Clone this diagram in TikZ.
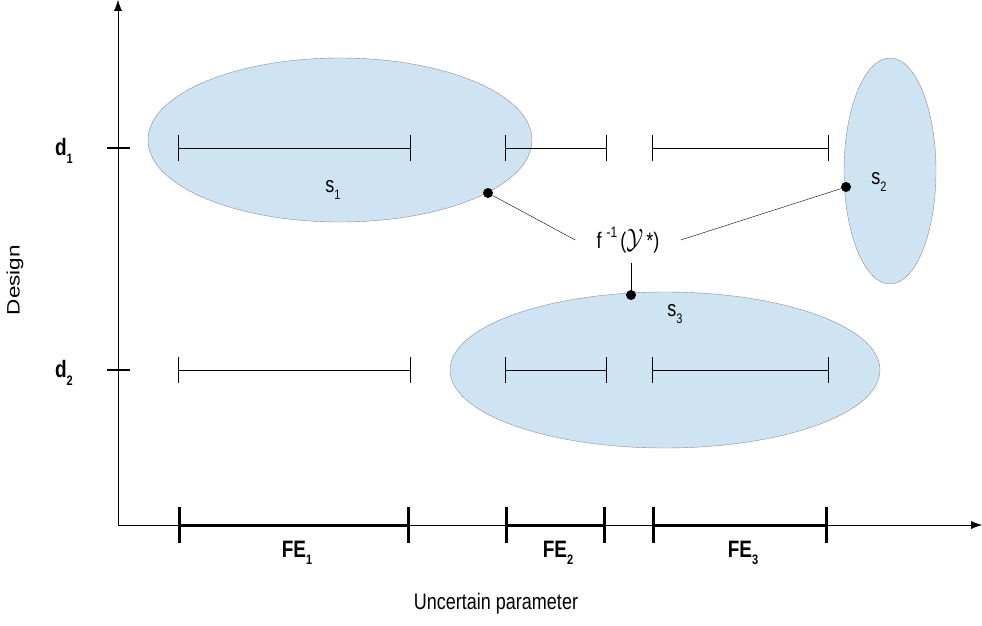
\documentclass[tikz,border=0pt]{standalone}
\usepackage{graphicx}
\usepackage{fontspec}
\setmainfont{Liberation Sans}
\usetikzlibrary{arrows.meta,shapes.geometric}
\definecolor{regionblue}{RGB}{207,228,243}
\newcommand{\lowsub}[1]{\raisebox{-0.6ex}{\fontsize{11}{11}\selectfont #1}}
\newcommand{\tall}[1]{\scalebox{1}[1.25]{#1}}

\begin{document}
\begin{tikzpicture}[x=1pt,y=-1pt,>=Latex,
  lbl/.style={font=\fontsize{18}{20}\selectfont},
  blbl/.style={font=\fontsize{19}{21}\selectfont\bfseries},
  region/.style={ellipse,draw=gray!90,fill=regionblue,inner sep=0pt},
  dot/.style={circle,fill=black,inner sep=0pt,minimum size=10pt},
  axis/.style={thin,-{Latex[length=11pt,width=8pt]}},
  fe/.style={line width=3pt,{Bar[width=36pt,line width=2.6pt]}-{Bar[width=36pt,line width=2.6pt]}},
  span/.style={thin,{Bar[width=26pt]}-{Bar[width=26pt]}}]
\useasboundingbox (0,0) rectangle (982,626);
% feasible regions
\node[region,minimum width=384pt,minimum height=164pt] (s1) at (340,140) {};
\node[region,minimum width=92pt,minimum height=226pt] (s2) at (890,171) {};
\node[region,minimum width=430pt,minimum height=156pt] (s3) at (665,370) {};
\node[lbl] at (333,190) {\tall{s\lowsub{1}}};
\node[lbl] at (879,182) {\tall{s\lowsub{2}}};
\node[lbl] at (675,314) {\tall{s\lowsub{3}}};
% axes
\coordinate (o) at (118,525);
\coordinate (ytop) at (118,0);
\coordinate (xend) at (982,525);
\draw[axis] (o) -- (ytop);
\draw[axis] (o) -- (xend);
\draw[line width=2.8pt] (107,148) -- (130,148);
\draw[line width=2.8pt] (107,370) -- (130,370);
\node[blbl] (d1) at (64,151) {\tall{d\lowsub{\bfseries 1}}};
\node[blbl] (d2) at (64,373) {\tall{d\lowsub{\bfseries 2}}};
\node[lbl,rotate=90] at (15,280) {\scalebox{1.25}[1]{Design}};
\node[lbl] at (496,604) {\tall{Uncertain parameter}};
% intervals
\foreach \a/\b/\i/\m in {178/410/1/297,505/606/2/558,652/828/3/743}{
  \draw[fe] (\a,525) -- (\b,525);
  \draw[span] (\a,148) -- (\b,148);
  \draw[span] (\a,370) -- (\b,370);
  \node[blbl] at (\m,553) {\tall{FE\lowsub{\bfseries\i}}};
}
% inverse image
\node[lbl,minimum width=105pt,minimum height=46pt,inner sep=0pt] (f) at (628,240)
  {\tall{f\;\raisebox{0.9ex}{\fontsize{12}{12}\selectfont -1}\,(\scalebox{1.3}{$\mathcal{Y}$}\,*)}};
\node[dot] (p1) at (488,193) {};
\node[dot] (p2) at (846,187) {};
\node[dot] (p3) at (631,295) {};
\draw (p1) -- (f.west);
\draw (p2) -- (f.east);
\draw (p3) -- (p3 |- f.south);
\end{tikzpicture}
\end{document}
